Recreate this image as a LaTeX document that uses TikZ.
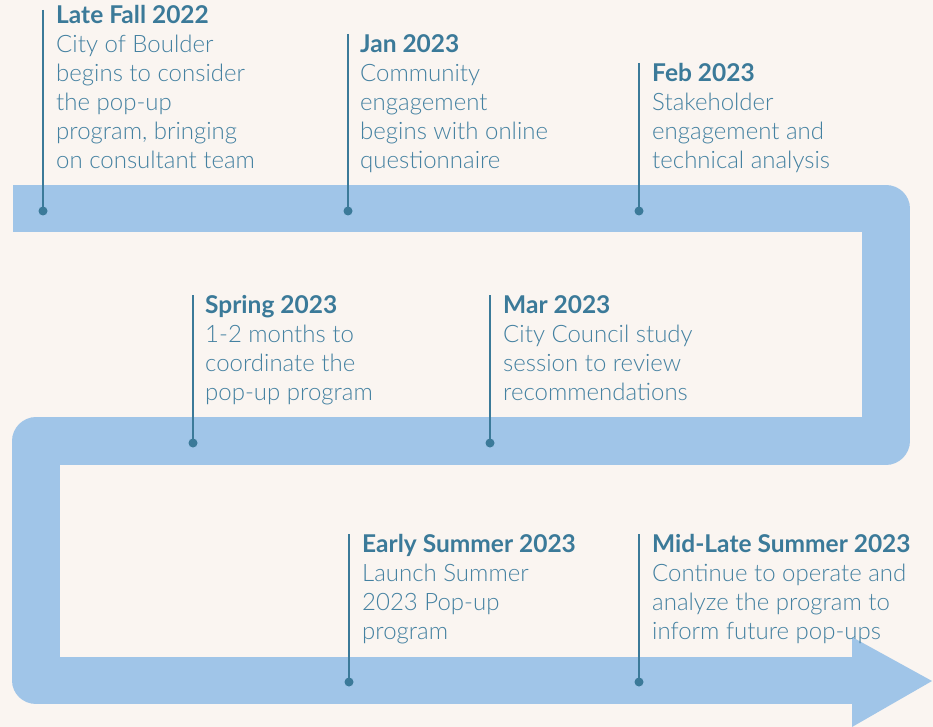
\documentclass[tikz,border=0pt]{standalone}
\usepackage{fontspec}
\setmainfont{Lato Light}[BoldFont=Lato Bold]
\definecolor{bg}{HTML}{FAF5F1}
\definecolor{band}{HTML}{A0C5E8}
\definecolor{teal}{HTML}{3B7A99}
\definecolor{bodytxt}{HTML}{4481A1}
\tikzset{
  bandline/.style={line width=47.5pt, draw=band, line join=round},
  stem/.style={draw=teal, line width=1.8pt},
  dot/.style={fill=teal},
  evt/.style={anchor=base west, inner sep=0pt, text=bodytxt, font=\fontsize{24}{29}\selectfont},
}
\newcommand{\evtitle}[1]{\textcolor{teal}{\fontsize{24.5}{29}\selectfont\bfseries #1}}
\newcommand{\evtext}[2]{\begin{tabular}[t]{@{}l@{}}\evtitle{#1}\\#2\end{tabular}}
\begin{document}
\begin{tikzpicture}[x=1pt,y=-1pt]
\fill[bg] (0,0) rectangle (933,727);
\useasboundingbox (0,0) rectangle (933,727);
% band
\coordinate (b0) at (13,208.5);
\coordinate (b1) at (886,208.5);
\coordinate (b2) at (886,441);
\coordinate (b3) at (36,441);
\coordinate (b4) at (36,680.5);
\coordinate (b5) at (852,680.5);
\draw[bandline] (b0) -- (b1) -- (b2) -- (b3) -- (b4) -- (b5);
\coordinate (h1) at (852,637);
\coordinate (h2) at (932,681);
\coordinate (h3) at (852,727);
\fill[band] (h1) -- (h2) -- (h3) -- cycle;
% stems and dots
\foreach \n/\x/\yt/\yd in {a/43/10/211, b/348/34/211, c/639/63/211, d/193/295/443, e/490/295/443, f/349/534/682, g/639/534/682}{
  \coordinate (t\n) at (\x,\yt);
  \coordinate (d\n) at (\x,\yd);
  \draw[stem] (t\n) -- (d\n);
  \fill[dot] (d\n) circle (4.5pt);
}
% texts
\node[evt] (ea) at (56,23.5) {\evtext{Late Fall 2022}{City of Boulder\\begins to consider\\the pop-up\\program, bringing\\on consultant team}};
\node[evt] (eb) at (360,52.5) {\evtext{Jan 2023}{Community\\engagement\\begins with online\\questionnaire}};
\node[evt] (ec) at (652,81.5) {\evtext{Feb 2023}{Stakeholder\\engagement and\\technical analysis}};
\node[evt] (ed) at (205,313.5) {\evtext{Spring 2023}{1-2 months to\\coordinate the\\pop-up program}};
\node[evt] (ee) at (503,313.5) {\evtext{Mar 2023}{City Council study\\session to review\\recommendations}};
\node[evt] (ef) at (362,552.5) {\evtext{Early Summer 2023}{Launch Summer\\2023 Pop-up\\program}};
\node[evt] (eg) at (652,552.5) {\evtext{Mid-Late Summer 2023}{Continue to operate and\\analyze the program to\\inform future pop-ups}};
\end{tikzpicture}
\end{document}
